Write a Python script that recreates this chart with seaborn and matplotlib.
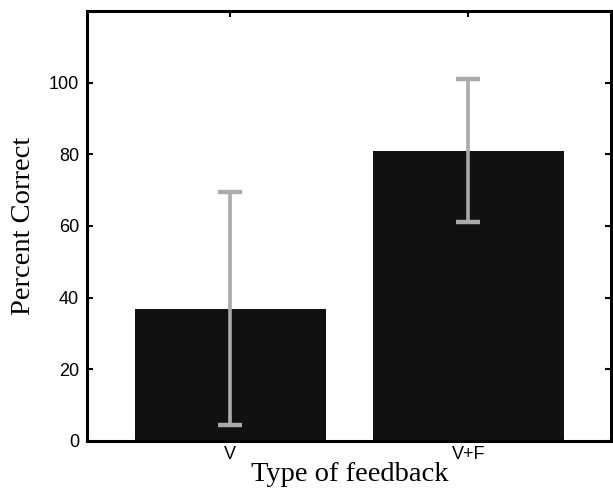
import matplotlib
matplotlib.use("Agg")
import matplotlib.pyplot as plt
import seaborn as sns
import pandas as pd

categories = ["V", "V+F"]
means = [36.9, 81.0]
errors = [32.6, 20.0]

df = pd.DataFrame({"feedback": categories, "pct": means})

sns.set_style("ticks")
fig = plt.figure(figsize=(6.13, 4.98), dpi=100)
ax = fig.add_axes([0.1427, 0.1149, 0.8543, 0.8631])

sns.barplot(data=df, x="feedback", y="pct", color="#111111", saturation=1,
            width=0.8, ax=ax, errorbar=None, linewidth=0)
ax.errorbar(categories, means, yerr=errors, fmt="none", ecolor="#aaaaaa",
            elinewidth=2.6, capsize=8.5, capthick=3.2, zorder=5)

ax.set_xlim(-0.6, 1.6)
ax.set_ylim(0, 120)
ax.set_yticks([0, 20, 40, 60, 80, 100])
for s in ax.spines.values():
    s.set_visible(True)
    s.set_linewidth(2.2)
    s.set_color("black")
ax.tick_params(direction="in", length=4, width=1.5, top=True, right=True,
               labelsize=13, pad=6, colors="black")
for lab in ax.get_xticklabels() + ax.get_yticklabels():
    lab.set_fontfamily("Liberation Sans")
ax.tick_params(axis="x", pad=4)
ax.set_xlabel("Type of feedback", family="Liberation Serif", fontsize=20.5,
              labelpad=-1, color="black")
ax.set_ylabel("Percent Correct", family="Liberation Serif", fontsize=20.5,
              labelpad=9, color="black")

fig.savefig("out.png", dpi=100)
